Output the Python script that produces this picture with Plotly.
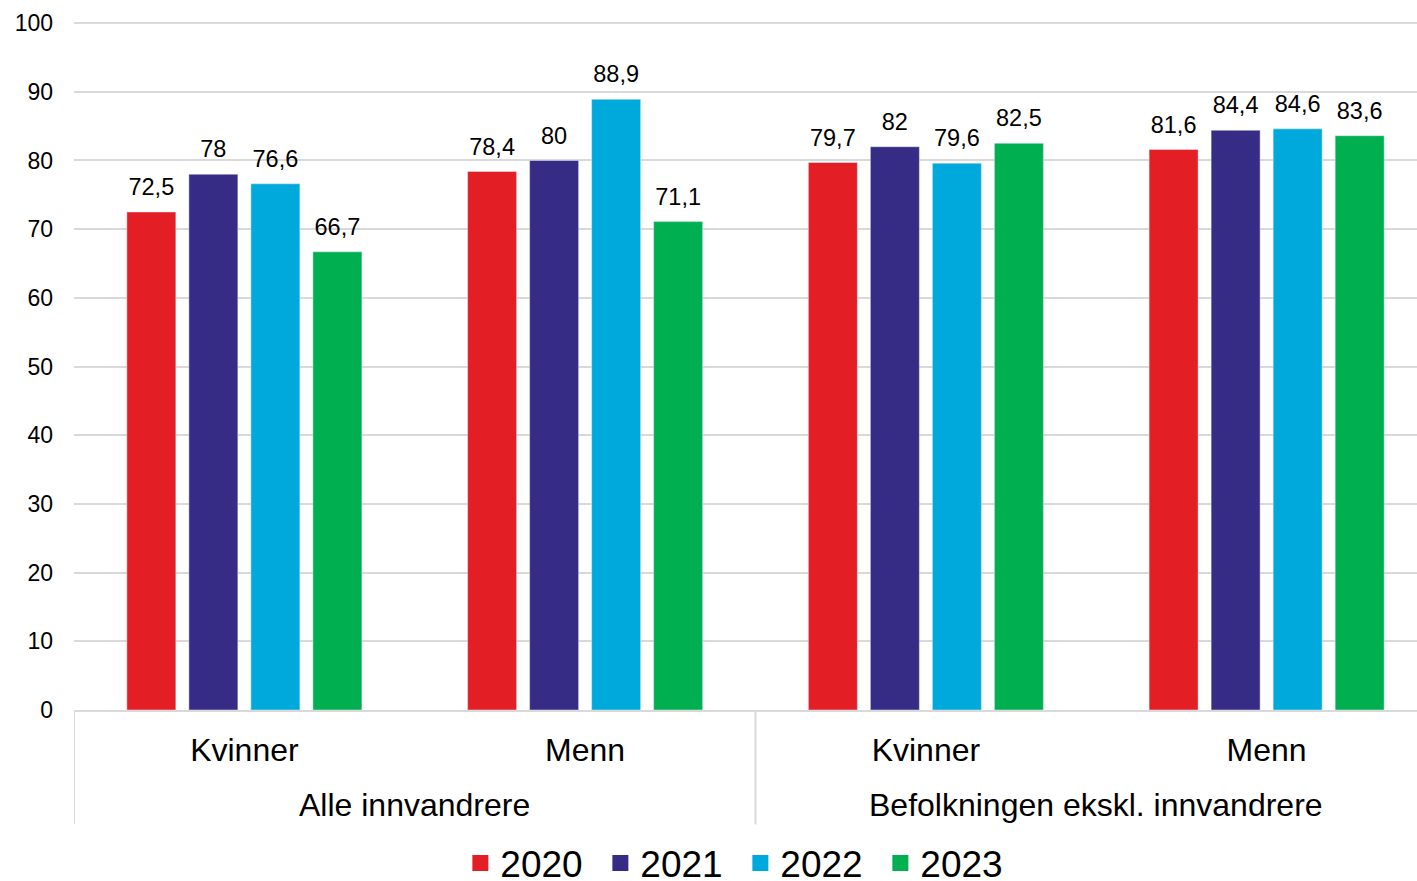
import plotly.graph_objects as go

groups = ["Alle innvandrere", "Befolkningen ekskl. innvandrere"]
categories = ["A-Kvinner", "A-Menn", "B-Kvinner", "B-Menn"]
cat_labels = ["Kvinner", "Menn", "Kvinner", "Menn"]
years = ["2020", "2021", "2022", "2023"]
values = {
    "2020": [72.5, 78.4, 79.7, 81.6],
    "2021": [78, 80, 82, 84.4],
    "2022": [76.6, 88.9, 79.6, 84.6],
    "2023": [66.7, 71.1, 82.5, 83.6],
}
colors = {"2020": "#E31E24", "2021": "#362C85", "2022": "#00A9DC", "2023": "#00AF50"}
y_ticks = [0, 10, 20, 30, 40, 50, 60, 70, 80, 90, 100]

def fmt(v):
    return f"{v:g}".replace(".", ",")

fig = go.Figure()
for yr in years:
    fig.add_trace(go.Bar(
        name=yr,
        x=categories,
        y=values[yr],
        marker_color=colors[yr],
        offsetgroup=yr,
        showlegend=False,
    ))
# value labels (scatter grouped the same way as the bars)
for yr in years:
    fig.add_trace(go.Scatter(
        name=yr,
        x=categories,
        y=values[yr],
        mode="markers+text",
        marker=dict(size=16, color="rgba(0,0,0,0)"),
        text=[fmt(v) for v in values[yr]],
        textposition="top center",
        textfont=dict(size=23.5, color="black"),
        offsetgroup=yr,
        cliponaxis=False,
        showlegend=False,
        hoverinfo="skip",
    ))
# legend entries
for yr in years:
    fig.add_trace(go.Scatter(
        name=yr, x=[None], y=[None], mode="markers",
        marker=dict(symbol="square", size=18, color=colors[yr]),
        showlegend=True,
    ))

# outer group labels and dividers
for i, g in enumerate(groups):
    fig.add_annotation(x=2 * i + 0.5, xref="x", y=-0.138, yref="paper",
                       text=g, showarrow=False, font=dict(size=32, color="black"),
                       yanchor="middle", xanchor="center")
for xd in [-0.5, 1.5, 3.5]:
    fig.add_shape(type="line", xref="x", yref="paper", x0=xd, x1=xd, y0=0, y1=-0.166,
                  line=dict(color="#d9d9d9", width=2))

fig.update_layout(
    width=1437, height=881,
    margin=dict(l=74, r=0, t=21, b=171, autoexpand=False),
    paper_bgcolor="white", plot_bgcolor="white",
    font=dict(family="Liberation Sans, Arial, sans-serif", color="black"),
    barmode="group",
    bargap=0.272,
    bargroupgap=0.21,
    scattermode="group",
    scattergap=0.272,
    legend=dict(orientation="h", x=0.4889, xanchor="center", y=-0.2227, yanchor="middle",
                font=dict(size=37), itemwidth=30, entrywidth=95, entrywidthmode="pixels",
                traceorder="normal"),
    yaxis=dict(range=[0, 100.3], tickvals=y_ticks, showgrid=True, gridcolor="#d9d9d9",
               gridwidth=1.5, zeroline=False, tickfont=dict(size=23), ticks="",
               ticklabelstandoff=20),
    xaxis=dict(type="category", categoryorder="array", categoryarray=categories,
               tickvals=categories, ticktext=cat_labels, range=[-0.5, 3.5],
               showline=True, linecolor="#d9d9d9", linewidth=2,
               tickfont=dict(size=32), ticks="", ticklabelstandoff=11),
)
fig.write_html("out.html", config={"displayModeBar": False},
               post_script="document.body.style.margin='0';document.body.style.overflow='hidden';")
